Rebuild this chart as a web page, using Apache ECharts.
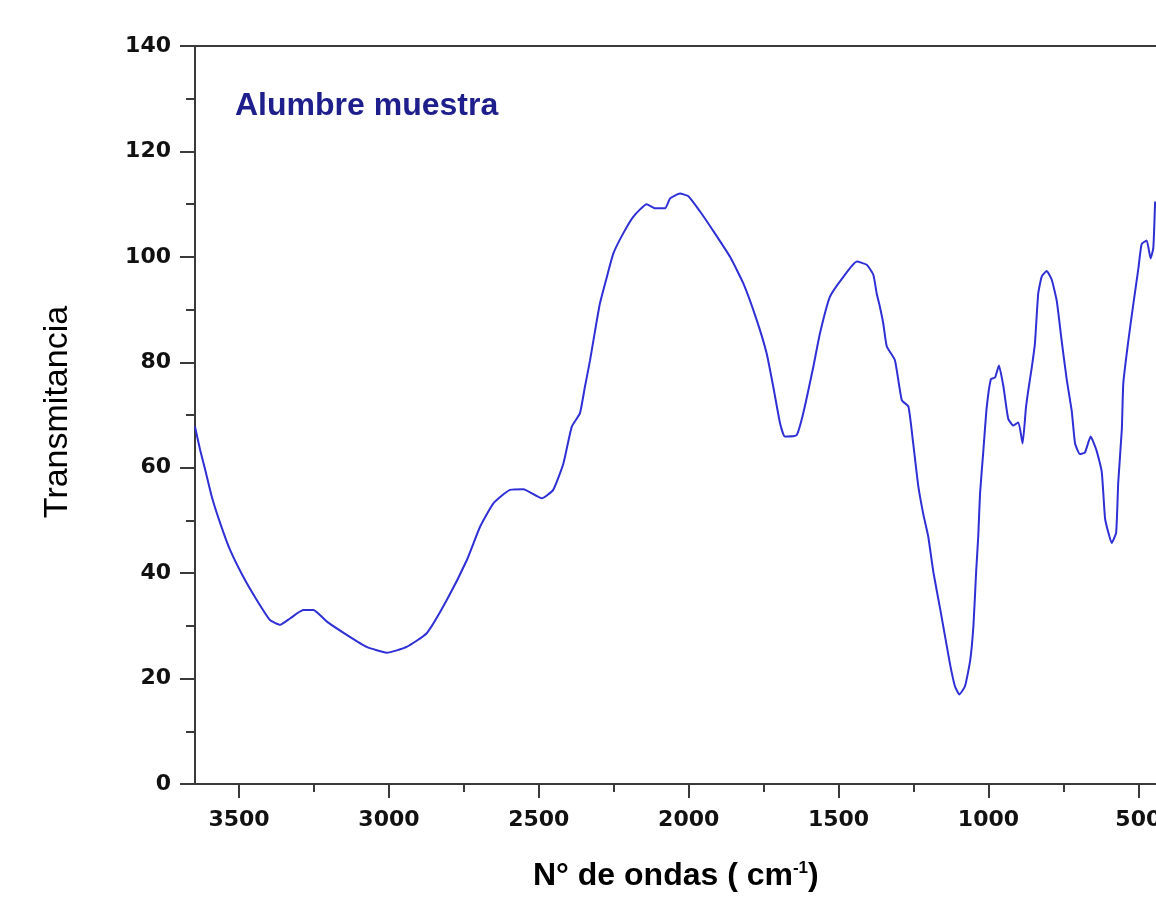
<!DOCTYPE html>
<html>
<head>
<meta charset="utf-8">
<script src="https://cdn.jsdelivr.net/npm/echarts@6.0.0/dist/echarts.min.js"></script>
<style>
  body { margin: 0; background: #fff; }
  #chart { width: 1156px; height: 897px; }
</style>
</head>
<body>
<div id="chart"></div>
<script>
// wavenumber (cm-1)
const waveNumbers = [
  3647, 3630, 3613, 3591, 3563, 3530, 3486, 3441, 3397, 3363,
  3330, 3286, 3252, 3207, 3141, 3074, 3007, 2941, 2874, 2807,
  2740, 2696, 2652, 2596, 2552, 2490, 2452, 2418, 2390, 2363,
  2346, 2329, 2312, 2296, 2273, 2251, 2218, 2185, 2140, 2112,
  2079, 2062, 2029, 2001, 1962, 1919, 1862, 1818, 1773, 1740,
  1718, 1695, 1679, 1640, 1618, 1584, 1562, 1529, 1484, 1439,
  1406, 1384, 1373, 1362, 1351, 1339, 1312, 1289, 1267, 1251,
  1234, 1217, 1201, 1184, 1162, 1145, 1128, 1112, 1097, 1078,
  1061, 1050, 1041, 1034, 1028, 1017, 1006, 992, 978, 965,
  950, 934, 917, 900, 886, 875, 867, 856, 845, 834,
  822, 806, 789, 772, 756, 739, 722, 711, 695, 678,
  659, 639, 622, 611, 600, 589, 574, 567, 555, 550,
  533, 517, 500, 489, 472, 459, 450, 444
];

// transmitancia at each wavenumber
const transmitancia = [
  67.8, 63.4, 59.6, 54.5, 49.5, 44.4, 39.3, 34.9, 31.1, 30.2,
  31.4, 33.0, 33.0, 30.8, 28.3, 26.0, 24.9, 26.0, 28.6, 34.9,
  42.5, 48.8, 53.2, 55.8, 55.9, 54.2, 55.8, 60.8, 67.8, 70.3,
  75.4, 80.4, 86.1, 91.2, 96.2, 100.7, 104.5, 107.6, 110.0, 109.2,
  109.2, 111.1, 112.0, 111.5, 108.6, 105.0, 100.0, 95.0, 88.0, 81.7,
  75.4, 68.4, 65.9, 66.2, 70.3, 79.2, 85.5, 92.4, 96.2, 99.1,
  98.5, 96.6, 93.1, 90.5, 87.4, 83.0, 80.4, 72.8, 71.6, 64.6,
  56.5, 51.1, 47.0, 40.3, 33.5, 28.1, 22.7, 18.6, 17.0, 18.6,
  23.4, 30.1, 40.3, 47.0, 55.1, 63.2, 71.3, 76.8, 77.1, 79.4,
  75.4, 69.3, 68.0, 68.6, 64.6, 71.3, 74.7, 78.8, 83.5, 93.0,
  96.3, 97.3, 95.7, 91.6, 84.2, 76.8, 70.7, 64.6, 62.6, 62.9,
  65.9, 63.2, 59.2, 50.4, 47.7, 45.7, 47.7, 57.2, 67.3, 76.1,
  84.2, 90.9, 97.7, 102.4, 103.1, 99.7, 101.7, 110.5
];

const xMajorTicks = [3500, 3000, 2500, 2000, 1500, 1000, 500];
const xMinorTicks = [3250, 2750, 2250, 1750, 1250, 750];
const seriesName = 'Alumbre muestra';

const axisColor = '#3a3a3a';
const tickFont = { fontFamily: 'DejaVu Sans', fontWeight: 'bold', fontSize: 22, color: '#111' };

const chart = echarts.init(document.getElementById('chart'));

// the picture is cut at the right, so the axis stops near 441 cm-1
const baseX = {
  type: 'value',
  inverse: true,
  min: 441,
  max: 3647,
  splitLine: { show: false }
};

const option = {
  animation: false,
  backgroundColor: '#ffffff',
  grid: { left: 195, right: 0, top: 46, bottom: 113, outerBoundsMode: 'none', containLabel: false },
  xAxis: [
    Object.assign({}, baseX, {
      position: 'bottom',
      axisLine: { onZero: false, lineStyle: { color: axisColor, width: 2 } },
      axisTick: { customValues: xMajorTicks, length: 14, lineStyle: { color: axisColor, width: 2 } },
      axisLabel: Object.assign({
        customValues: xMajorTicks,
        margin: 25,
        formatter: (v) => String(v)
      }, tickFont)
    }),
    Object.assign({}, baseX, {
      position: 'bottom',
      axisLine: { show: false, onZero: false },
      axisTick: { customValues: xMinorTicks, length: 8, lineStyle: { color: axisColor, width: 2 } },
      axisLabel: { show: false }
    }),
    Object.assign({}, baseX, {
      position: 'top',
      axisLine: { onZero: false, lineStyle: { color: axisColor, width: 2 } },
      axisTick: { show: false },
      axisLabel: { show: false }
    })
  ],
  yAxis: {
    type: 'value',
    position: 'left',
    min: 0,
    max: 140,
    interval: 20,
    axisLine: { show: true, onZero: false, lineStyle: { color: axisColor, width: 2 } },
    axisTick: { show: true, length: 15, lineStyle: { color: axisColor, width: 2 } },
    minorTick: { show: true, splitNumber: 2, length: 9, lineStyle: { color: axisColor, width: 2 } },
    axisLabel: Object.assign({ margin: 24 }, tickFont),
    splitLine: { show: false }
  },
  series: [{
    name: seriesName,
    type: 'line',
    xAxisIndex: 0,
    showSymbol: false,
    smooth: 0.15,
    lineStyle: { color: '#2f2fd6', width: 2 },
    data: waveNumbers.map((w, i) => [w, transmitancia[i]])
  }],
  graphic: [
    {
      type: 'text',
      left: 235,
      top: 90,
      style: { text: seriesName, font: 'bold 32px "Liberation Sans"', fill: '#1e1e8c' }
    },
    {
      type: 'text',
      left: 533,
      top: 860,
      style: {
        text: '{n|N° de ondas ( cm}{s|-1}{n|)}',
        rich: {
          n: { font: 'bold 32px "Liberation Sans"', fill: '#000' },
          s: { font: 'bold 17px "Liberation Sans"', fill: '#000', verticalAlign: 'top' }
        }
      }
    },
    {
      type: 'text',
      x: 58,
      y: 412,
      rotation: Math.PI / 2,
      style: {
        text: 'Transmitancia',
        font: '34px "Liberation Sans"',
        fill: '#000',
        align: 'center',
        verticalAlign: 'middle',
        textAlign: 'center',
        textVerticalAlign: 'middle'
      }
    }
  ]
};

chart.setOption(option, true);
</script>
</body>
</html>
